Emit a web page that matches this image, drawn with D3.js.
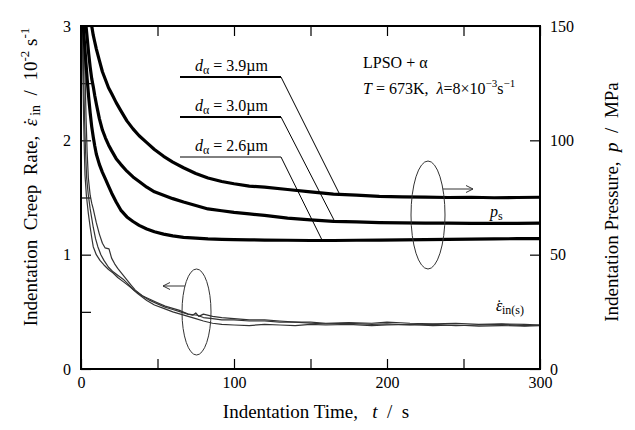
<!DOCTYPE html>
<html>
<head>
<meta charset="utf-8">
<script src="https://cdn.jsdelivr.net/npm/d3@7"></script>
<style>
  body { margin: 0; background: #fff; }
  svg text { font-family: "Liberation Serif", "Times New Roman", Times, "DejaVu Serif", serif !important; fill: #000; }
</style>
</head>
<body>
<svg id="chart" width="635" height="430"></svg>
<script>
// indentation pressure p (MPa) vs time t (s), one per grain size
var pTime39 = [6,7,8,9,10,12,14,16,18,20,23,26,30,34,38,43,48,54,60,67,75,83,92,100,110,120,135,150,165,180,195,210,225,240,255,270,285,300];
var pVal39  = [153,150,146,143,140,135,130,126.5,123,120.5,116.5,113,108.5,105,102,99,96,93,90.5,88,85.5,83.5,82,81,80,79.5,78.5,77.5,76.5,76,75.5,75.3,75.2,75,75.1,74.9,75,75.1];

var pTime30 = [3,4,5,6,7,8,9,10,12,14,16,18,20,23,26,30,34,38,43,48,54,60,67,75,83,92,100,110,120,135,150,165,180,195,210,225,240,255,270,285,300];
var pVal30  = [152,145,138,132,127,123.5,119.5,116,109.5,104.5,101,98,95.5,92,89.5,86.5,84,82,79.5,77.5,76,74.5,73,71.5,70,69.2,68.5,67.8,67.2,66,65.2,64.6,64.3,64,63.9,63.8,63.8,63.7,63.7,63.7,63.8];

var pTime26 = [1,1.5,2,3,4,5,6,7,8,9,10,12,14,16,18,20,23,26,30,34,38,43,48,54,60,67,75,83,92,100,110,120,135,150,165,180,195,210,225,240,255,270,285,300];
var pVal26  = [155,150,145,136,127,119,112,106,101.5,97.5,94,89.5,86,83,80,77,73,69.5,66.5,64.5,62.8,61.2,60,59,58.2,57.6,57.2,56.9,56.7,56.6,56.5,56.4,56.3,56.2,56.2,56.3,56.4,56.5,56.6,56.7,56.8,56.9,57,57];

// indentation creep rate (10^-2 s^-1) vs time, three runs
var rTimeA = [0.8,1.2,1.7,2.2,2.6,3.5,4.8,6,7,8,10,12.4,15,18,21,24,28,32,37,43,48,54,60,65,70,75,80,86,92,100,110,120,130,140,150,160,175,190,200,215,230,245,260,275,290,300];
var rValA  = [3.05,2.6,2.2,1.9,1.7,1.52,1.36,1.24,1.15,1.07,1.0,0.95,0.91,0.87,0.84,0.8,0.76,0.72,0.66,0.6,0.56,0.53,0.5,0.48,0.46,0.44,0.42,0.4,0.39,0.385,0.38,0.39,0.385,0.38,0.39,0.385,0.39,0.38,0.385,0.39,0.38,0.385,0.375,0.38,0.375,0.38];

var rTimeB = [2,2.6,3.3,4,4.8,6,7,8,10,12,14,15.7,18.3,20,22,24,27,30,33,35.5,40,45,50,55,60,65,70,73,75,77,80,86,92,100,110,120,130,140,150,160,175,190,200,215,230,245,260,275,290,300];
var rValB  = [3.05,2.6,2.2,1.9,1.67,1.52,1.45,1.4,1.28,1.18,1.1,1.06,1.05,0.97,0.92,0.88,0.83,0.78,0.73,0.69,0.64,0.61,0.58,0.55,0.53,0.51,0.48,0.47,0.49,0.46,0.48,0.46,0.45,0.44,0.43,0.43,0.42,0.41,0.41,0.4,0.405,0.4,0.41,0.4,0.395,0.4,0.39,0.395,0.39,0.385];

var rTimeC = [1.2,1.7,2.3,3,3.7,4.8,6,8,9.5,11,13,15,18,21,24,28,31,34.5,40,45,50,55,60,65,70,76,80,86,92,100,110,120,130,140,150,160,175,190,200,215,230,245,260,275,290,300];
var rValC  = [3.05,2.6,2.2,1.9,1.67,1.52,1.4,1.24,1.14,1.07,1.0,0.95,0.89,0.85,0.82,0.78,0.74,0.69,0.64,0.6,0.57,0.54,0.52,0.5,0.48,0.47,0.45,0.44,0.43,0.43,0.42,0.42,0.41,0.41,0.4,0.395,0.4,0.39,0.395,0.385,0.39,0.38,0.385,0.39,0.38,0.385];

var xTicks = [0,50,100,150,200,250,300];
var xLabels = [0,100,200,300];
var rateTicks = [0,0.5,1,1.5,2,2.5,3];
var rateLabels = [0,1,2,3];
var pTicks = [0,50,100,150];

var grainLabels = ["3.9", "3.0", "2.6"];

var serif = '"Liberation Serif", "Times New Roman", Times, "DejaVu Serif", serif';

var svg = d3.select('#chart');

var x = d3.scaleLinear().domain([0,300]).range([81,540]);
var yRate = d3.scaleLinear().domain([0,3]).range([369,26]);
var yP = d3.scaleLinear().domain([0,150]).range([369,26]);

svg.append('clipPath').attr('id','plotClip')
  .append('rect')
  .attr('x', x(0)).attr('y', yRate(3))
  .attr('width', x(300)-x(0)).attr('height', yRate(0)-yRate(3));

// axes, ticks point inward
var fmt = function(list){ return function(d){ return list.indexOf(d) >= 0 ? d : ""; }; };

var gLeft = svg.append('g').attr('transform','translate('+x(0)+',0)')
  .call(d3.axisLeft(yRate).tickValues(rateTicks).tickSize(-10).tickPadding(10).tickFormat(fmt(rateLabels)));
var gRight = svg.append('g').attr('transform','translate('+x(300)+',0)')
  .call(d3.axisRight(yP).tickValues(pTicks).tickSize(-10).tickPadding(10));
var gBottom = svg.append('g').attr('transform','translate(0,'+yRate(0)+')')
  .call(d3.axisBottom(x).tickValues(xTicks).tickSize(-10).tickPadding(8).tickFormat(fmt(xLabels)));
var gTop = svg.append('g').attr('transform','translate(0,'+yRate(3)+')')
  .call(d3.axisTop(x).tickValues(xTicks).tickSize(-10).tickFormat(""));

[gLeft, gRight, gBottom, gTop].forEach(function(g){
  g.select('.domain').remove();
  g.attr('font-family', serif).attr('font-size', 16);
  g.selectAll('line').attr('stroke','#000').attr('stroke-width',1.2);
  g.selectAll('text').attr('fill','#000');
});

// curves
var plot = svg.append('g').attr('clip-path','url(#plotClip)');

var pLine = d3.line().x(function(d){ return x(d[0]); }).y(function(d){ return yP(d[1]); });
var rLine = d3.line().x(function(d){ return x(d[0]); }).y(function(d){ return yRate(d[1]); });

var pSeries = [d3.zip(pTime39, pVal39), d3.zip(pTime30, pVal30), d3.zip(pTime26, pVal26)];
var rSeries = [d3.zip(rTimeA, rValA), d3.zip(rTimeB, rValB), d3.zip(rTimeC, rValC)];

plot.selectAll('.rcurve').data(rSeries).enter()
  .append('path').attr('class','rcurve')
  .attr('d', rLine)
  .attr('fill','none').attr('stroke','#333').attr('stroke-width',1.2)
  .attr('stroke-linejoin','round');

plot.selectAll('.pcurve').data(pSeries).enter()
  .append('path').attr('class','pcurve')
  .attr('d', pLine)
  .attr('fill','none').attr('stroke','#000').attr('stroke-width',3.2)
  .attr('stroke-linejoin','round');

// frame
svg.append('rect')
  .attr('x', x(0)).attr('y', yRate(3))
  .attr('width', x(300)-x(0)).attr('height', yRate(0)-yRate(3))
  .attr('fill','none').attr('stroke','#000').attr('stroke-width',2);

var labels = svg.append('g').attr('font-family', serif);

// epsilon with a dot on top, as two tspans
function epsDot(t, size){
  t.append('tspan').style('font-style','italic').text('\u03b5');
  t.append('tspan').attr('dx', -size*0.36).attr('dy', -size*0.02).text('\u02d9');
  t.append('tspan').attr('dy', size*0.02).text('');
}

// grain size labels with leader lines
var leaderY = [77, 117, 157];
var leaderEnd = [[340,195],[335,222],[323,242]];
grainLabels.forEach(function(lab, i){
  labels.append('path')
    .attr('d', 'M281,'+leaderY[i]+' L'+leaderEnd[i][0]+','+leaderEnd[i][1])
    .attr('fill','none').attr('stroke','#000').attr('stroke-width', 1);
  labels.append('line')
    .attr('x1',180).attr('x2',281).attr('y1',leaderY[i]).attr('y2',leaderY[i])
    .attr('stroke','#000').attr('stroke-width', i < 2 ? 2 : 1);
  var t = labels.append('text').attr('x',195).attr('y',leaderY[i]-6).attr('font-size',16);
  t.append('tspan').style('font-style','italic').text('d');
  t.append('tspan').attr('dy',3).attr('font-size',12).text('\u03b1');
  t.append('tspan').attr('dy',-3).text(' = ' + lab + '\u00b5m');
});

// conditions
labels.append('text').attr('x',363).attr('y',68).attr('font-size',16).text('LPSO + \u03b1');
var cond = labels.append('text').attr('x',363).attr('y',94).attr('font-size',16);
cond.append('tspan').style('font-style','italic').text('T');
cond.append('tspan').text(' = 673K,\u00a0\u00a0');
cond.append('tspan').style('font-style','italic').text('\u03bb');
cond.append('tspan').text('=8\u00d710');
cond.append('tspan').attr('dy',-7).attr('font-size',11).text('\u22123');
cond.append('tspan').attr('dy',7).text('s');
cond.append('tspan').attr('dy',-7).attr('font-size',11).text('\u22121');

// loops with arrows
function loop(cx, cy, rx, ry, ay, tipX, dir){
  labels.append('ellipse').attr('cx',cx).attr('cy',cy).attr('rx',rx).attr('ry',ry)
    .attr('fill','none').attr('stroke','#333').attr('stroke-width',1);
  var dy = ay - cy;
  var sx = cx + dir * rx * Math.sqrt(1 - (dy*dy)/(ry*ry));
  labels.append('path')
    .attr('d','M'+sx+','+ay+' L'+tipX+','+ay+' M'+(tipX-dir*7)+','+(ay-3.5)+' L'+tipX+','+ay+' L'+(tipX-dir*7)+','+(ay+3.5))
    .attr('fill','none').attr('stroke','#333').attr('stroke-width',1);
}
loop(196.5, 312, 14.5, 43, 286, 163, -1);
loop(428, 215, 17, 54, 189, 473, 1);

// p_s and rate labels
var ps = labels.append('text').attr('x',490).attr('y',217).attr('font-size',16);
ps.append('tspan').style('font-style','italic').text('p');
ps.append('tspan').attr('dy',3).attr('font-size',12).text('s');

var es = labels.append('text').attr('x',496).attr('y',311).attr('font-size',16);
epsDot(es, 16);
es.append('tspan').attr('dy',3).attr('font-size',12).text('in(s)');

// axis titles
var tx = labels.append('text').attr('x',316).attr('y',418).attr('text-anchor','middle').attr('font-size',19);
tx.append('tspan').text('Indentation Time,\u00a0\u00a0\u00a0');
tx.append('tspan').style('font-style','italic').text('t');
tx.append('tspan').text('\u00a0\u00a0/\u00a0\u00a0s');

var tl = labels.append('text').attr('transform','translate(37,177) rotate(-90)').attr('text-anchor','middle').attr('font-size',19);
tl.append('tspan').text('Indentation\u00a0 Creep\u00a0 Rate,\u00a0\u00a0');
epsDot(tl, 19);
tl.append('tspan').attr('dy',3).attr('font-size',14).text('\u00a0in');
tl.append('tspan').attr('dy',-3).text('\u00a0\u00a0/\u00a0 10');
tl.append('tspan').attr('dy',-8).attr('font-size',13).text('-2');
tl.append('tspan').attr('dy',8).text(' s');
tl.append('tspan').attr('dy',-8).attr('font-size',13).text('-1');

var tr = labels.append('text').attr('transform','translate(618,202) rotate(-90)').attr('text-anchor','middle').attr('font-size',19);
tr.append('tspan').text('Indentation Pressure,\u00a0\u00a0');
tr.append('tspan').style('font-style','italic').text('p');
tr.append('tspan').text('\u00a0\u00a0/\u00a0\u00a0MPa');
</script>
</body>
</html>
